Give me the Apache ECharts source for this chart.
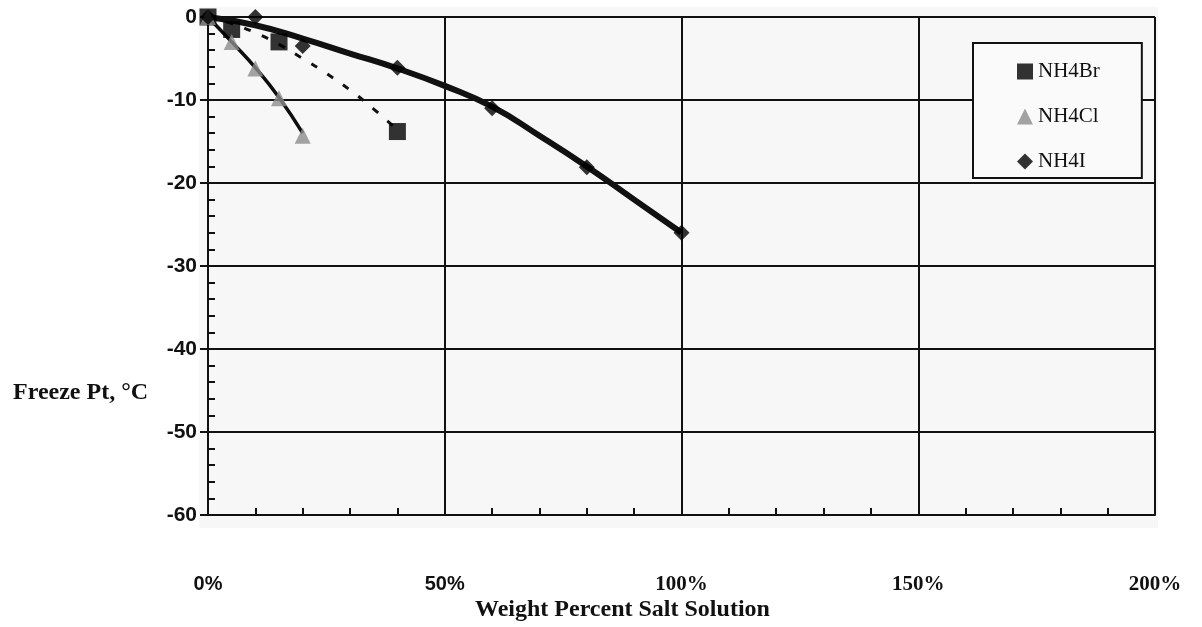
<!DOCTYPE html>
<html>
<head>
<meta charset="utf-8">
<script src="https://cdn.jsdelivr.net/npm/echarts@6/dist/echarts.min.js"></script>
<style>html,body{margin:0;padding:0;background:#fff;}#c{width:1202px;height:627px;}</style>
</head>
<body>
<div id="c"></div>
<script>
// ---- data (x = weight percent salt, y = freeze point °C) ----
const seriesNames = ['NH4Br', 'NH4Cl', 'NH4I'];
const nh4brPoints = [[0, 0], [5, -1.5], [15, -3.0], [40, -13.8]];
const nh4clPoints = [[0, 0], [5, -3.0], [10, -6.2], [15, -9.8], [20, -14.3]];
const nh4iPoints  = [[0, 0], [10, 0], [20, -3.5], [40, -6.1], [60, -11.0], [80, -18.1], [100, -26.0]];
// trend lines
const nh4brTrend = [[0, 0], [5, -0.8], [10, -1.9], [15, -3.3], [20, -5.0], [25, -6.8], [30, -8.8], [35, -11.1], [40, -13.6]];
const nh4clTrend = [[0, 0], [5, -3.0], [10, -6.1], [15, -9.7], [20, -14.0]];
const nh4iTrend  = [[0, 0], [10, -1.0], [20, -2.6], [30, -4.4], [40, -6.2], [50, -8.3], [60, -10.8], [70, -14.3], [80, -18.0], [90, -22.0], [100, -26.0]];
const xTicks = [0, 50, 100, 150, 200];
const yTicks = [0, -10, -20, -30, -40, -50, -60];
const xTitle = 'Weight Percent Salt Solution';
const yTitle = 'Freeze Pt, °C';

const SANS = 'Liberation Sans, Arial, sans-serif';
const SERIF = 'Liberation Serif, Times New Roman, serif';
const INK = '#111';

const chart = echarts.init(document.getElementById('c'), null, {renderer: 'canvas'});

const xBase = {
  type: 'value', min: xTicks[0], max: xTicks[xTicks.length - 1], interval: 50, gridIndex: 0, position: 'bottom'
};
const yBase = {
  type: 'value', min: yTicks[yTicks.length - 1], max: yTicks[0], interval: 10, gridIndex: 0, position: 'left'
};

const option = {
  backgroundColor: '#ffffff',
  animation: false,
  graphic: [{
    type: 'rect', z: -100, silent: true,
    shape: {x: 199, y: 7, width: 959, height: 521},
    style: {fill: '#f7f7f7'}
  }],
  title: [
    {text: yTitle, left: 8, top: 376, textStyle: {fontFamily: SERIF, fontWeight: 'bold', fontSize: 24, color: INK}},
    {text: xTitle, left: 470, top: 593, textStyle: {fontFamily: SERIF, fontWeight: 'bold', fontSize: 24, color: INK}}
  ],
  grid: {left: 208, right: 47, top: 17, bottom: 112},
  legend: {
    orient: 'vertical', left: 973, top: 43,
    data: [
      {name: seriesNames[0], icon: 'rect'},
      {name: seriesNames[1], icon: 'triangle'},
      {name: seriesNames[2], icon: 'diamond'}
    ],
    itemWidth: 16, itemHeight: 16, itemGap: 24,
    padding: [18, 42, 6, 44],
    backgroundColor: '#fafafa', borderColor: INK, borderWidth: 2, borderRadius: 0,
    textStyle: {fontFamily: SERIF, fontSize: 21, color: INK},
    selectedMode: false
  },
  xAxis: [
    Object.assign({}, xBase, {
      axisLine: {show: true, onZero: false, lineStyle: {color: INK, width: 2}},
      axisTick: {show: true, inside: true, length: 8, lineStyle: {color: INK, width: 2}},
      minorTick: {show: true, splitNumber: 5, length: 7, lineStyle: {color: INK, width: 2}},
      splitLine: {show: true, lineStyle: {color: INK, width: 2}},
      axisLabel: {
        margin: 59,
        formatter: function (v) { return v < 100 ? '{s|' + v + '%}' : '{r|' + v + '%}'; },
        rich: {
          s: {fontFamily: SANS, fontWeight: 'bold', fontSize: 20, color: INK},
          r: {fontFamily: SERIF, fontWeight: 'bold', fontSize: 21, color: INK}
        }
      }
    }),
    Object.assign({}, xBase, {
      axisLine: {show: false},
      axisTick: {show: true, inside: false, length: 8, lineStyle: {color: INK, width: 2}},
      axisLabel: {show: false},
      splitLine: {show: false}
    })
  ],
  yAxis: [
    Object.assign({}, yBase, {
      axisLine: {show: true, onZero: false, lineStyle: {color: INK, width: 2}},
      axisTick: {show: true, inside: true, length: 8, lineStyle: {color: INK, width: 2}},
      minorTick: {show: true, splitNumber: 5, length: 7, lineStyle: {color: INK, width: 2}},
      splitLine: {show: true, lineStyle: {color: INK, width: 2}},
      axisLabel: {margin: 11, fontFamily: SANS, fontWeight: 'bold', fontSize: 21, color: INK}
    }),
    Object.assign({}, yBase, {
      axisLine: {show: false},
      axisTick: {show: true, inside: false, length: 8, lineStyle: {color: INK, width: 2}},
      axisLabel: {show: false},
      splitLine: {show: false}
    })
  ],
  series: [
    {name: 'NH4Br trend', type: 'line', data: nh4brTrend, smooth: true, showSymbol: false, silent: true, z: 3,
     lineStyle: {color: INK, width: 3, type: [7, 12]}},
    {name: 'NH4Cl trend', type: 'line', data: nh4clTrend, smooth: true, showSymbol: false, silent: true, z: 3,
     lineStyle: {color: '#0d0d0d', width: 3.5}},
    {name: 'NH4I trend', type: 'line', data: nh4iTrend, smooth: true, showSymbol: false, silent: true, z: 3,
     lineStyle: {color: INK, width: 6}},
    {name: seriesNames[0], type: 'scatter', data: nh4brPoints, symbol: 'rect', symbolSize: 17, z: 4,
     itemStyle: {color: '#000'}},
    {name: seriesNames[1], type: 'scatter', data: nh4clPoints, symbol: 'triangle', symbolSize: 16, z: 4,
     itemStyle: {color: '#8c8c8c'}},
    {name: seriesNames[2], type: 'scatter', data: nh4iPoints, symbol: 'diamond', symbolSize: 16, z: 4,
     itemStyle: {color: '#000'}}
  ]
};
chart.setOption(option);
</script>
</body>
</html>
